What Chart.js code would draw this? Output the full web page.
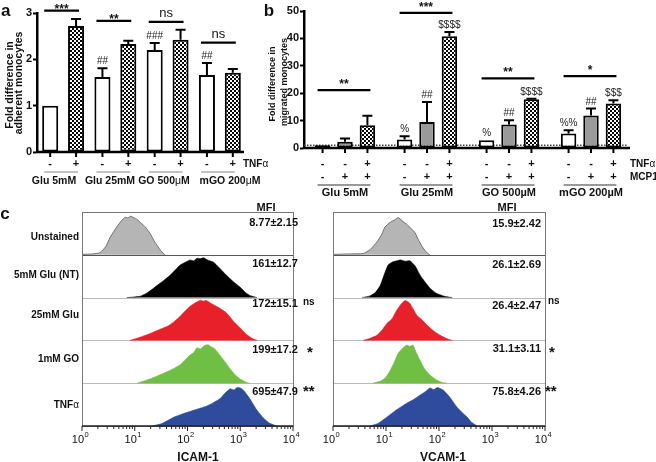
<!DOCTYPE html>
<html>
<head>
<meta charset="utf-8">
<script src="https://cdn.jsdelivr.net/npm/chart.js@4.4.0/dist/chart.umd.min.js"></script>
<style>
    body { margin: 0; width: 656px; height: 462px; position: relative; overflow: hidden; background: #fff;
           font-family: "Liberation Sans", Arial, sans-serif; }
    canvas { position: absolute; left: 0; top: 0; }
    .t { position: absolute; white-space: nowrap; font-weight: bold; color: #111; line-height: 1; }
    .c { transform: translate(-50%, -50%); }
    .r { transform: translate(-100%, -50%); }
    .l { transform: translate(0, -50%); }
    .v { transform: translate(-50%, -50%) rotate(-90deg); }
</style>
</head>
<body>
<canvas id="chartA" width="656" height="462"></canvas>
<canvas id="chartB" width="656" height="462"></canvas>
<canvas id="chartIcam" width="656" height="462"></canvas>
<canvas id="chartVcam" width="656" height="462"></canvas>

<!-- panel letters -->
<div class="t l" style="left:1px;top:10px;font-size:17px">a</div>
<div class="t c" style="left:269px;top:10px;font-size:17px">b</div>
<div class="t c" style="left:5px;top:213px;font-size:17px">c</div>

<!-- axis titles -->
<div class="t v" style="left:8.5px;top:85px;font-size:10.5px">Fold difference in</div>
<div class="t v" style="left:18px;top:83px;font-size:10.5px">adherent monocytes</div>
<div class="t v" style="left:271.5px;top:84px;font-size:9px">Fold difference in</div>
<div class="t v" style="left:284px;top:82px;font-size:9px">migrated monocytes</div>

<!-- panel a bottom labels -->
<div class="t l" style="left:243px;top:164px;font-size:10px">TNF<span style="font-weight:normal">α</span></div>
<div class="t c" style="left:54px;top:180px;font-size:10.5px">Glu 5mM</div>
<div class="t c" style="left:110px;top:180px;font-size:10.5px">Glu 25mM</div>
<div class="t c" style="left:164px;top:180px;font-size:10.5px">GO 500<span style="font-weight:normal">μ</span>M</div>
<div class="t c" style="left:230px;top:180px;font-size:10.5px">mGO 200<span style="font-weight:normal">μ</span>M</div>

<!-- panel b row names -->
<div class="t l" style="left:630px;top:164px;font-size:10px">TNF<span style="font-weight:normal">α</span></div>
<div class="t l" style="left:630px;top:177px;font-size:10px">MCP1</div>

<!-- panel c, left -->
<div class="t r" style="left:79px;top:237px;font-size:10px">Unstained</div>
<div class="t r" style="left:79px;top:275px;font-size:10px">5mM Glu (NT)</div>
<div class="t r" style="left:79px;top:315px;font-size:10px">25mM Glu</div>
<div class="t r" style="left:79px;top:359px;font-size:10px">1mM GO</div>
<div class="t r" style="left:79px;top:405px;font-size:10px">TNF<span style="font-weight:normal">α</span></div>
<div class="t c" style="left:266px;top:207px;font-size:11px">MFI</div>
<div class="t r" style="left:298px;top:222px;font-size:11px">8.77±2.15</div>
<div class="t r" style="left:298px;top:263px;font-size:11px">161±12.7</div>
<div class="t r" style="left:298px;top:303px;font-size:11px">172±15.1</div>
<div class="t r" style="left:298px;top:349px;font-size:11px">199±17.2</div>
<div class="t r" style="left:298px;top:391px;font-size:11px">695±47.9</div>
<div class="t l" style="left:303px;top:302px;font-size:10px">ns</div>
<div class="t l" style="left:307px;top:351px;font-size:15px">*</div>
<div class="t l" style="left:303px;top:390px;font-size:15px">**</div>
<div class="t c" style="left:198px;top:457px;font-size:12px">ICAM-1</div>

<!-- panel c, right -->
<div class="t c" style="left:507px;top:207px;font-size:11px">MFI</div>
<div class="t r" style="left:541px;top:223px;font-size:11px">15.9±2.42</div>
<div class="t r" style="left:541px;top:264px;font-size:11px">26.1±2.69</div>
<div class="t r" style="left:541px;top:305px;font-size:11px">26.4±2.47</div>
<div class="t r" style="left:541px;top:348px;font-size:11px">31.1±3.11</div>
<div class="t r" style="left:541px;top:391px;font-size:11px">75.8±4.26</div>
<div class="t l" style="left:548px;top:301px;font-size:10px">ns</div>
<div class="t l" style="left:549px;top:351px;font-size:15px">*</div>
<div class="t l" style="left:545px;top:390px;font-size:15px">**</div>
<div class="t c" style="left:443px;top:457px;font-size:12px">VCAM-1</div>

<script>
// ---- panel a : adherent monocytes ----
const groupsA = ["Glu 5mM", "Glu 25mM", "GO 500μM", "mGO 200μM"];
const aControl = [1.0, 1.62, 2.2, 1.66];
const aTnf = [2.72, 2.33, 2.42, 1.71];
const aControlErr = [0, 0.19, 0.15, 0.26];
const aTnfErr = [0.15, 0.07, 0.22, 0.08];
const aControlMarks = ["", "##", "###", "##"];
const aTnfMarks = ["", "", "", ""];
const aSigText = ["***", "**", "ns", "ns"];
const aSigLevel = [3.05, 2.83, 2.81, 2.36];
const aTnfSigns = ["-", "+"];

// ---- panel b : migrated monocytes ----
const groupsB = ["Glu 5mM", "Glu 25mM", "GO 500μM", "mGO 200μM"];
const bNone = [1.0, 3.1, 2.8, 5.25];
const bMcp = [2.3, 9.5, 8.6, 11.9];
const bBoth = [8.3, 40.8, 17.8, 16.2];
const bNoneErr = [0, 1.2, 0, 1.25];
const bMcpErr = [1.2, 7.3, 1.5, 2.5];
const bBothErr = [3.5, 1.5, 0.2, 1.2];
const bNoneMarks = ["", "%", "%", "%%"];
const bMcpMarks = ["", "##", "##", "##"];
const bBothMarks = ["", "$$$$", "$$$$", "$$$"];
const bSigText = ["**", "***", "**", "*"];
const bSigLevel = [21.1, 49.3, 25.4, 26.2];
const bTnfSigns = ["-", "-", "+"];
const bMcpSigns = ["-", "+", "+"];

// ---- panel c : flow histograms, [log10 intensity, relative count] ----
const rowNames = ["Unstained", "5mM Glu (NT)", "25mM Glu", "1mM GO", "TNFα"];
const rowColors = ["#b5b5b5", "#000000", "#e8202a", "#6fbf44", "#2f4b9b"];
const rowLines = ["#555555", "#000000", "#e8202a", "#6fbf44", "#2f4b9b"];
const icamUnstained = [[0, 0.01], [0.2, 0.02], [0.34, 0.05], [0.45, 0.19], [0.53, 0.4], [0.62, 0.58], [0.7, 0.72],
    [0.78, 0.84], [0.83, 0.88], [0.87, 0.86], [0.92, 0.9], [0.98, 0.87], [1.05, 0.82], [1.12, 0.74], [1.2, 0.65],
    [1.29, 0.5], [1.38, 0.3], [1.48, 0.12], [1.55, 0.02], [1.58, 0]];
const icamNt = [[0.85, 0], [1.1, 0.03], [1.25, 0.12], [1.42, 0.28], [1.55, 0.4], [1.67, 0.52], [1.78, 0.66],
    [1.86, 0.76], [1.95, 0.82], [2.05, 0.88], [2.12, 0.86], [2.18, 0.92], [2.24, 0.91], [2.3, 0.93], [2.38, 0.88],
    [2.49, 0.83], [2.6, 0.7], [2.74, 0.52], [2.87, 0.37], [3.0, 0.24], [3.1, 0.12], [3.18, 0.05], [3.32, 0]];
const icamGlu = [[0.91, 0], [1.04, 0.05], [1.25, 0.14], [1.48, 0.26], [1.62, 0.33], [1.73, 0.42], [1.85, 0.55],
    [1.95, 0.68], [2.05, 0.8], [2.15, 0.88], [2.24, 0.94], [2.3, 0.92], [2.36, 0.93], [2.45, 0.86], [2.6, 0.76],
    [2.74, 0.64], [2.87, 0.45], [3.0, 0.29], [3.12, 0.14], [3.25, 0.03], [3.32, 0]];
const icamGo = [[1.04, 0], [1.29, 0.1], [1.45, 0.18], [1.6, 0.26], [1.75, 0.35], [1.86, 0.43], [1.96, 0.55],
    [2.05, 0.66], [2.12, 0.72], [2.18, 0.83], [2.25, 0.8], [2.32, 0.88], [2.39, 0.9], [2.45, 0.85], [2.52, 0.8],
    [2.61, 0.66], [2.7, 0.52], [2.81, 0.33], [2.9, 0.2], [3.0, 0.1], [3.1, 0.03], [3.18, 0]];
const icamTnf = [[1.32, 0], [1.5, 0.05], [1.73, 0.2], [1.9, 0.28], [2.1, 0.36], [2.25, 0.42], [2.37, 0.47],
    [2.5, 0.55], [2.62, 0.64], [2.72, 0.78], [2.81, 0.87], [2.88, 0.84], [2.94, 0.9], [3.0, 0.89], [3.06, 0.84],
    [3.18, 0.64], [3.3, 0.4], [3.43, 0.2], [3.55, 0.07], [3.69, 0]];
const vcamUnstained = [[0, 0.01], [0.3, 0.02], [0.57, 0.03], [0.7, 0.12], [0.83, 0.3], [0.92, 0.48], [0.98, 0.65],
    [1.08, 0.76], [1.17, 0.82], [1.23, 0.87], [1.3, 0.8], [1.4, 0.7], [1.47, 0.62], [1.55, 0.51], [1.62, 0.33],
    [1.7, 0.16], [1.77, 0.05], [1.83, 0]];
const vcamNt = [[0.55, 0], [0.7, 0.04], [0.8, 0.12], [0.89, 0.28], [0.97, 0.55], [1.04, 0.76], [1.12, 0.83],
    [1.2, 0.86], [1.28, 0.88], [1.36, 0.85], [1.45, 0.86], [1.55, 0.74], [1.64, 0.53], [1.74, 0.36], [1.83, 0.22],
    [1.95, 0.1], [2.1, 0.03], [2.25, 0]];
const vcamGlu = [[0.57, 0], [0.7, 0.05], [0.83, 0.12], [0.93, 0.25], [1.02, 0.4], [1.11, 0.5], [1.2, 0.7],
    [1.28, 0.84], [1.36, 0.93], [1.44, 0.88], [1.51, 0.74], [1.58, 0.59], [1.68, 0.48], [1.77, 0.36], [1.9, 0.22],
    [2.02, 0.12], [2.15, 0.04], [2.25, 0]];
const vcamGo = [[0.75, 0], [0.9, 0.05], [1.0, 0.14], [1.08, 0.3], [1.16, 0.5], [1.23, 0.7], [1.3, 0.8],
    [1.39, 0.89], [1.45, 0.86], [1.51, 0.89], [1.57, 0.72], [1.64, 0.54], [1.72, 0.35], [1.83, 0.19], [1.95, 0.08],
    [2.05, 0.02], [2.15, 0]];
const vcamTnf = [[0.7, 0], [0.85, 0.06], [1.02, 0.21], [1.2, 0.38], [1.4, 0.54], [1.52, 0.62], [1.64, 0.72],
    [1.74, 0.8], [1.83, 0.89], [1.9, 0.85], [1.97, 0.9], [2.08, 0.84], [2.2, 0.68], [2.34, 0.44], [2.45, 0.3],
    [2.53, 0.21], [2.62, 0.08], [2.72, 0]];
const decadeLabels = ["0", "1", "2", "3", "4"];

// checker fill used by the TNF bars
const makeChecker = () => {
    const tile = document.createElement("canvas");
    tile.width = 4;
    tile.height = 4;
    const t = tile.getContext("2d");
    t.fillStyle = "#fff";
    t.fillRect(0, 0, 4, 4);
    t.fillStyle = "#000";
    t.fillRect(0, 0, 2, 2);
    t.fillRect(2, 2, 2, 2);
    return document.getElementById("chartA").getContext("2d").createPattern(tile, "repeat");
};
const checker = makeChecker();

// error caps, marks, ticks, sign rows and significance lines for the bar panels
const barExtras = {
    id: "barExtras",
    beforeDatasetsDraw(chart, args, opts) {
        if (!opts.dottedAt) return;
        const ctx = chart.ctx;
        const area = chart.chartArea;
        const yy = chart.scales.y.getPixelForValue(opts.dottedAt);
        ctx.save();
        ctx.strokeStyle = "#444";
        ctx.lineWidth = 1.5;
        ctx.setLineDash([1.5, 1.5]);
        ctx.beginPath();
        ctx.moveTo(area.left, yy);
        ctx.lineTo(area.right - 4, yy);
        ctx.stroke();
        ctx.restore();
    },
    afterDatasetsDraw(chart, args, opts) {
        const ctx = chart.ctx;
        const area = chart.chartArea;
        const y = chart.scales.y;
        const nSets = chart.data.datasets.length;
        ctx.save();
        ctx.strokeStyle = "#000";
        ctx.fillStyle = "#222";
        ctx.textAlign = "center";

        // error bars (upper only) and marks
        chart.data.datasets.forEach((ds, di) => {
            chart.getDatasetMeta(di).data.forEach((bar, i) => {
                const top = y.getPixelForValue(ds.data[i] + opts.errors[di][i]);
                if (opts.errors[di][i] > 0) {
                    ctx.lineWidth = 2;
                    ctx.beginPath();
                    ctx.moveTo(bar.x, bar.y);
                    ctx.lineTo(bar.x, top);
                    ctx.moveTo(bar.x - 5, top);
                    ctx.lineTo(bar.x + 5, top);
                    ctx.stroke();
                }
                const mark = opts.marks[di][i];
                if (mark) {
                    ctx.font = "10px 'Liberation Sans'";
                    ctx.textBaseline = "alphabetic";
                    ctx.fillText(mark, bar.x, top - 4);
                }
            });
        });

        // x axis line
        ctx.lineWidth = 2.5;
        ctx.beginPath();
        ctx.moveTo(area.left - 1, area.bottom);
        ctx.lineTo(area.right - 2, area.bottom);
        ctx.stroke();

        // ticks and sign rows under every bar
        ctx.font = "bold 11px 'Liberation Sans'";
        ctx.fillStyle = "#111";
        ctx.textBaseline = "middle";
        chart.data.datasets.forEach((ds, di) => {
            chart.getDatasetMeta(di).data.forEach((bar) => {
                ctx.lineWidth = 2;
                ctx.beginPath();
                ctx.moveTo(bar.x, area.bottom);
                ctx.lineTo(bar.x, area.bottom + 5);
                ctx.stroke();
                opts.signRows.forEach((row, r) => {
                    ctx.fillText(row[di], bar.x, opts.signY[r]);
                });
            });
        });

        // group underline and group names
        chart.data.labels.forEach((label, g) => {
            const first = chart.getDatasetMeta(0).data[g];
            const last = chart.getDatasetMeta(nSets - 1).data[g];
            ctx.strokeStyle = opts.underColor;
            ctx.lineWidth = 1.2;
            ctx.beginPath();
            ctx.moveTo(first.x - opts.underPad[0], opts.underY);
            ctx.lineTo(last.x + opts.underPad[1], opts.underY);
            ctx.stroke();
            if (opts.groupY) {
                ctx.fillStyle = "#111";
                ctx.font = "bold 11px 'Liberation Sans'";
                ctx.fillText(label.replace("μ", "µ"), (first.x + last.x) / 2, opts.groupY);
            }
        });

        // significance bars
        ctx.strokeStyle = "#000";
        ctx.fillStyle = "#111";
        opts.sigText.forEach((txt, g) => {
            const first = chart.getDatasetMeta(0).data[g];
            const last = chart.getDatasetMeta(nSets - 1).data[g];
            const ly = y.getPixelForValue(opts.sigLevel[g]);
            const x0 = first.x - opts.sigPad[0];
            const x1 = last.x + opts.sigPad[1];
            ctx.lineWidth = 2.2;
            ctx.beginPath();
            ctx.moveTo(x0, ly);
            ctx.lineTo(x1, ly);
            ctx.stroke();
            ctx.textBaseline = "alphabetic";
            if (txt === "ns") {
                ctx.font = "13px 'Liberation Sans'";
                ctx.fillText(txt, (x0 + x1) / 2, ly - 5);
            } else {
                ctx.font = "bold 12px 'Liberation Sans'";
                ctx.fillText(txt, (x0 + x1) / 2, ly + opts.starLift);
            }
        });
        ctx.restore();
    },
};

const yAxis = (max, step, width) => ({
    min: 0,
    max: max,
    ticks: { stepSize: step, color: "#111", padding: 1, font: { family: "'Liberation Sans'", size: 11, weight: "bold" } },
    grid: { drawOnChartArea: false, tickLength: 4, tickWidth: 2, tickColor: "#000" },
    border: { width: 2.5, color: "#000" },
    afterFit: (scale) => { scale.width = width; },
});

// Panel a
new Chart(document.getElementById("chartA"), {
    type: "bar",
    data: {
        labels: groupsA,
        datasets: [
            { data: aControl, backgroundColor: "#fff", borderColor: "#000", borderWidth: 2, borderSkipped: false },
            { data: aTnf, backgroundColor: checker, borderColor: "#000", borderWidth: 2, borderSkipped: false },
        ],
    },
    options: {
        responsive: false,
        animation: false,
        layout: { padding: { left: 15, right: 410, top: 13, bottom: 310 } },
        datasets: { bar: { barPercentage: 0.62, categoryPercentage: 0.99 } },
        plugins: {
            legend: { display: false },
            tooltip: { enabled: false },
            barExtras: {
                errors: [aControlErr, aTnfErr],
                marks: [aControlMarks, aTnfMarks],
                signRows: [aTnfSigns],
                signY: [164],
                underY: 172,
                underPad: [6, 2],
                underColor: "#888",
                groupY: 0,
                sigText: aSigText,
                sigLevel: aSigLevel,
                sigPad: [6, 3],
                starLift: 2,
            },
        },
        scales: { x: { display: false }, y: yAxis(3, 1, 22) },
    },
    plugins: [barExtras],
});

// Panel b
new Chart(document.getElementById("chartB"), {
    type: "bar",
    data: {
        labels: groupsB,
        datasets: [
            { data: bNone, backgroundColor: "#fff", borderColor: "#000", borderWidth: 2, borderSkipped: false },
            { data: bMcp, backgroundColor: "#9a9a9a", borderColor: "#000", borderWidth: 2, borderSkipped: false },
            { data: bBoth, backgroundColor: checker, borderColor: "#000", borderWidth: 2, borderSkipped: false },
        ],
    },
    options: {
        responsive: false,
        animation: false,
        layout: { padding: { left: 282, right: 24, top: 11, bottom: 314 } },
        datasets: { bar: { barPercentage: 0.69, categoryPercentage: 0.82 } },
        plugins: {
            legend: { display: false },
            tooltip: { enabled: false },
            barExtras: {
                errors: [bNoneErr, bMcpErr, bBothErr],
                marks: [bNoneMarks, bMcpMarks, bBothMarks],
                signRows: [bTnfSigns, bMcpSigns],
                signY: [164, 177],
                underY: 185,
                underPad: [5, 3],
                underColor: "#333",
                groupY: 193,
                sigText: bSigText,
                sigLevel: bSigLevel,
                sigPad: [5, 3],
                starLift: -2,
                dottedAt: 1,
            },
        },
        scales: { x: { display: false }, y: yAxis(50, 10, 22) },
    },
    plugins: [barExtras],
});

// frame, row lines and log axis for the histogram panels
const ridgeFrame = {
    id: "ridgeFrame",
    beforeDatasetsDraw(chart) {
        const ctx = chart.ctx;
        const area = chart.chartArea;
        const y = chart.scales.y;
        ctx.save();
        ctx.lineWidth = 1;
        [1, 2, 3, 4].forEach((v) => {
            const yy = Math.round(y.getPixelForValue(v)) + 0.5;
            ctx.strokeStyle = v === 4 ? "#555" : "#bbb";
            ctx.beginPath();
            ctx.moveTo(area.left, yy);
            ctx.lineTo(area.right, yy);
            ctx.stroke();
        });
        ctx.restore();
    },
    afterDatasetsDraw(chart) {
        const ctx = chart.ctx;
        const area = chart.chartArea;
        const x = chart.scales.x;
        ctx.save();
        ctx.strokeStyle = "#777";
        ctx.lineWidth = 1;
        ctx.strokeRect(Math.round(area.left) + 0.5, Math.round(area.top) + 0.5,
            Math.round(area.right - area.left), Math.round(area.bottom - area.top));
        ctx.strokeStyle = "#222";
        ctx.lineWidth = 1.3;
        ctx.beginPath();
        ctx.moveTo(area.left, area.bottom);
        ctx.lineTo(area.right, area.bottom);
        ctx.stroke();
        ctx.lineWidth = 1;
        ctx.fillStyle = "#111";
        decadeLabels.forEach((d, n) => {
            const px = x.getPixelForValue(n);
            ctx.beginPath();
            ctx.moveTo(px, area.bottom);
            ctx.lineTo(px, area.bottom + 5);
            ctx.stroke();
            if (n < 4) {
                for (let k = 2; k <= 9; k++) {
                    const mx = x.getPixelForValue(n + Math.log10(k));
                    ctx.beginPath();
                    ctx.moveTo(mx, area.bottom);
                    ctx.lineTo(mx, area.bottom + 3);
                    ctx.stroke();
                }
            }
            ctx.textBaseline = "alphabetic";
            ctx.textAlign = "right";
            ctx.font = "11px 'Liberation Sans'";
            ctx.fillText("10", px + 2, area.bottom + 17);
            ctx.textAlign = "left";
            ctx.font = "7.5px 'Liberation Sans'";
            ctx.fillText(d, px + 2.5, area.bottom + 11);
        });
        ctx.restore();
    },
};

const ridgeChart = (id, rows, padding) => new Chart(document.getElementById(id), {
    type: "line",
    data: {
        datasets: rows.map((pts, r) => ({
            label: rowNames[r],
            data: pts.map((p) => ({ x: p[0], y: 4 - r + p[1] })),
            fill: { value: 4 - r },
            backgroundColor: rowColors[r],
            borderColor: rowLines[r],
            borderWidth: r === 0 ? 0.8 : 0.6,
            pointRadius: 0,
            tension: 0.15,
        })),
    },
    options: {
        responsive: false,
        animation: false,
        layout: { padding: padding },
        plugins: { legend: { display: false }, tooltip: { enabled: false } },
        scales: {
            x: { type: "linear", min: 0, max: 4, display: false },
            y: { min: 0, max: 5, display: false },
        },
    },
    plugins: [ridgeFrame],
});

ridgeChart("chartIcam", [icamUnstained, icamNt, icamGlu, icamGo, icamTnf],
    { left: 82, right: 363, top: 212, bottom: 36 });
ridgeChart("chartVcam", [vcamUnstained, vcamNt, vcamGlu, vcamGo, vcamTnf],
    { left: 333, right: 111, top: 212, bottom: 36 });
</script>
</body>
</html>
